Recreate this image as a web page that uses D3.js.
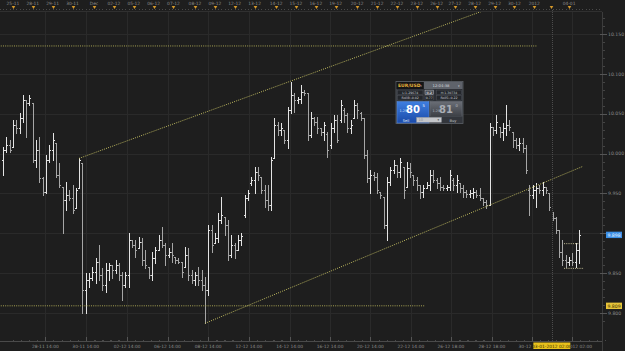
<!DOCTYPE html>
<html>
<head>
<meta charset="utf-8">
<script src="https://cdn.jsdelivr.net/npm/d3@7"></script>
<style>
  html, body { margin: 0; padding: 0; background: #1e1e1e; overflow: hidden; }
  svg { display: block; }
  text { font-family: 'DejaVu Sans', 'Liberation Sans', sans-serif; }
</style>
</head>
<body>
<div id="myDiv"></div>
<script>
//--------------------------------------------------
// Data: 4 hour bars, 25-11-2011 .. 04-01-2012
//--------------------------------------------------
var opens = [
  9.992,10.004,10.011,10.008,10.036,10.032,10.045,10.067,10.063,10.063,
  9.992,10.004,9.969,9.952,9.992,10.004,10.013,9.973,9.958,9.942,
  9.948,9.944,9.932,9.957,9.988,9.829,9.841,9.844,9.851,9.864,
  9.848,9.835,9.854,9.860,9.854,9.860,9.848,9.835,9.848,9.892,
  9.885,9.882,9.889,9.866,9.858,9.848,9.869,9.879,9.892,9.885,
  9.873,9.877,9.870,9.866,9.864,9.858,9.873,9.848,9.841,9.848,
  9.841,9.835,9.829,9.904,9.888,9.894,9.917,9.920,9.910,9.873,
  9.885,9.879,9.892,9.923,9.944,9.963,9.967,9.977,9.971,9.954,
  9.942,9.935,9.994,10.036,10.030,10.030,10.017,10.055,10.073,10.067,
  10.068,10.077,10.076,10.023,10.045,10.040,10.032,10.027,10.025,10.011,
  10.032,10.042,10.042,10.055,10.048,10.032,10.045,10.061,10.051,10.045,
  9.998,9.969,9.973,9.971,9.952,9.946,9.910,9.964,9.979,9.986,
  9.977,9.983,9.958,9.982,9.973,9.967,9.960,9.952,9.957,9.961,
  9.973,9.967,9.963,9.958,9.957,9.958,9.967,9.961,9.963,9.957,
  9.952,9.949,9.951,9.952,9.948,9.944,9.939,9.935,10.033,10.030,
  10.033,10.027,10.032,10.036,10.027,10.017,10.011,10.013,10.007,9.954,
  9.948,9.954,9.957,9.954,9.958,9.951,9.927,9.919,9.904,9.877,
  9.866,9.864,9.866,9.864,9.879
];
var highs = [
  10.008,10.021,10.017,10.042,10.042,10.051,10.073,10.067,10.073,10.063,
  10.017,10.021,9.971,9.998,10.011,10.026,10.013,9.988,9.958,9.964,
  9.954,9.961,9.957,9.994,9.988,9.850,9.850,9.858,9.869,9.885,
  9.856,9.863,9.863,9.860,9.866,9.863,9.851,9.851,9.900,9.892,
  9.892,9.895,9.894,9.879,9.858,9.877,9.883,9.898,9.908,9.888,
  9.882,9.888,9.870,9.869,9.864,9.883,9.882,9.854,9.851,9.858,
  9.854,9.845,9.910,9.910,9.900,9.925,9.946,9.920,9.917,9.898,
  9.888,9.898,9.900,9.948,9.954,9.971,9.983,9.983,9.971,9.961,
  9.961,9.996,10.045,10.040,10.038,10.030,10.058,10.090,10.076,10.071,
  10.086,10.080,10.076,10.052,10.046,10.046,10.032,10.040,10.027,10.038,
  10.048,10.048,10.067,10.057,10.051,10.042,10.067,10.063,10.052,10.045,
  10.004,9.979,9.977,9.976,9.952,9.946,9.971,9.983,9.992,9.986,
  9.994,9.983,9.989,9.988,9.973,9.971,9.961,9.961,9.964,9.979,
  9.979,9.969,9.971,9.961,9.961,9.979,9.969,9.973,9.963,9.961,
  9.954,9.954,9.957,9.954,9.957,9.944,9.942,10.038,10.033,10.048,
  10.033,10.038,10.061,10.042,10.027,10.020,10.020,10.020,10.011,9.961,
  9.961,9.963,9.961,9.964,9.958,9.951,9.927,9.920,9.904,9.892,
  9.873,9.870,9.875,9.888,9.904
];
var lows = [
  9.973,10.002,10.002,10.008,10.026,10.026,10.040,10.021,10.061,9.989,
  9.983,9.964,9.948,9.951,9.989,9.992,9.971,9.958,9.900,9.929,
  9.942,9.925,9.932,9.957,9.800,9.800,9.833,9.841,9.838,9.841,
  9.829,9.826,9.841,9.844,9.850,9.841,9.816,9.833,9.833,9.883,
  9.870,9.882,9.860,9.856,9.844,9.841,9.863,9.879,9.883,9.860,
  9.870,9.864,9.863,9.863,9.845,9.858,9.841,9.838,9.835,9.835,
  9.829,9.787,9.823,9.877,9.888,9.889,9.913,9.898,9.866,9.870,
  9.869,9.879,9.885,9.920,9.942,9.961,9.951,9.967,9.951,9.933,
  9.929,9.929,9.994,10.023,10.023,10.013,10.007,10.051,10.052,10.063,
  10.063,10.073,10.017,10.021,10.036,10.026,10.023,10.017,9.996,10.007,
  10.027,10.015,10.040,10.040,10.027,10.026,10.045,10.045,10.042,9.994,
  9.964,9.951,9.967,9.951,9.944,9.907,9.892,9.961,9.976,9.971,
  9.971,9.944,9.958,9.971,9.961,9.954,9.944,9.946,9.957,9.954,
  9.964,9.957,9.954,9.954,9.954,9.954,9.954,9.952,9.952,9.946,
  9.946,9.946,9.944,9.946,9.942,9.935,9.932,9.935,10.023,10.026,
  10.021,10.017,10.023,10.030,10.008,10.007,10.004,10.002,9.976,9.923,
  9.944,9.933,9.951,9.948,9.951,9.929,9.917,9.900,9.870,9.860,
  9.858,9.860,9.860,9.858,9.863
];
var closes = [
  10.004,10.011,10.004,10.036,10.032,10.045,10.067,10.063,10.070,9.992,
  10.004,9.969,9.952,9.992,10.004,10.017,9.973,9.961,9.942,9.948,
  9.944,9.929,9.954,9.992,9.829,9.841,9.844,9.851,9.864,9.848,
  9.835,9.854,9.860,9.854,9.860,9.848,9.835,9.848,9.892,9.885,
  9.879,9.889,9.866,9.860,9.848,9.869,9.879,9.892,9.885,9.873,
  9.877,9.873,9.866,9.864,9.851,9.873,9.848,9.841,9.848,9.841,
  9.835,9.829,9.904,9.885,9.894,9.917,9.923,9.910,9.873,9.885,
  9.879,9.892,9.897,9.944,9.951,9.967,9.977,9.973,9.954,9.942,
  9.935,9.992,10.036,10.030,10.032,10.017,10.055,10.073,10.067,10.068,
  10.077,10.076,10.023,10.045,10.040,10.032,10.027,10.036,10.004,10.032,
  10.042,10.017,10.061,10.048,10.032,10.036,10.061,10.055,10.045,9.998,
  9.969,9.973,9.971,9.954,9.948,9.910,9.964,9.979,9.986,9.977,
  9.989,9.954,9.982,9.977,9.967,9.960,9.952,9.957,9.961,9.973,
  9.967,9.963,9.958,9.957,9.958,9.973,9.961,9.967,9.957,9.952,
  9.949,9.951,9.952,9.948,9.944,9.939,9.935,10.033,10.030,10.040,
  10.027,10.032,10.036,10.033,10.017,10.011,10.013,10.007,9.979,9.948,
  9.954,9.957,9.954,9.958,9.954,9.933,9.919,9.904,9.877,9.866,
  9.864,9.866,9.864,9.879,9.898
];

// day markers on the top ruler (bar index where each day starts)
var dayLabels = ['25-11','28-11','29-11','30-11','Dec','02-12','05-12','06-12','07-12','08-12',
  '09-12','12-12','13-12','14-12','15-12','16-12','19-12','20-12','21-12','22-12',
  '23-12','26-12','27-12','28-12','29-12','30-12','2012','','04-01'];
var dayIndex = [3,9,15,21,27.5,33.5,39.5,45.5,51.5,58,64,70,76,82.5,88.5,94.5,100.5,107,113,119,
  125,131,136.5,142.5,148.5,154.5,160.5,165.5,171];

// bottom time axis
var timeLabels = ['28-11 14:00','30-11 14:00','02-12 14:00','06-12 14:00','08-12 14:00','12-12 14:00',
  '14-12 14:00','16-12 14:00','20-12 14:00','22-12 14:00','26-12 18:00','28-12 18:00',
  '30-12 18:00','04-01-2012 02:00'];
var timeIndex = [12.8,25,37.5,49.7,62,74.3,86.6,98.8,111,123.2,135.3,147.7,159.8,172];

// price axis
var priceTicks = [9.800, 9.850, 9.900, 9.950, 10.000, 10.050, 10.100, 10.150];
var lastPrice = 9.898;
var supportPrice = 9.809;

// drawn objects: [bar index, price]
var channelTop = [[23, 9.994], [145, 10.179]];
var channelBottom = [[61, 9.787], [175.2, 9.984]];
var levelHigh = [[-2, 10.135], [161.3, 10.135]];
var levelLow = [[-2, supportPrice], [127.5, supportPrice]];
var orderStop = [[169.5, 9.887], [174.2, 9.887]];
var orderLimit = [[169.5, 9.856], [175.5, 9.856]];
var cursorIndex = 165.8;
var cursorLabel = '03-01-2012 02:00';

//--------------------------------------------------
// Styles
//--------------------------------------------------
var bgColor = '#1e1e1e';
var gridColor = '#2a2a2a';
var axisText = '#8c8c8c';
var upColor = '#e4e4e4';
var downColor = '#a6a6a6';
var drawColor = '#bdb85e';

var width = 625, height = 351;
var plotTop = 12, plotBottom = 341, axisX = 602;

var svg = d3.select('#myDiv')
  .append('svg')
    .attr('width', width)
    .attr('height', height);

svg.append('rect').attr('width', width).attr('height', height).attr('fill', bgColor);

var x = d3.scaleLinear().domain([0, closes.length - 1]).range([3, 579]);
var y = d3.scaleLinear().domain([9.800, 10.150]).range([313, 34]);

function px(v) { return Math.round(v) + 0.5; }

svg.append('clipPath').attr('id', 'plotClip')
  .append('rect').attr('x', 0).attr('y', plotTop).attr('width', axisX).attr('height', plotBottom - plotTop);

// grid
var grid = svg.append('g').attr('shape-rendering', 'crispEdges');
grid.selectAll('line.v').data(timeIndex).enter().append('line')
  .attr('x1', function (d) { return px(x(d)); })
  .attr('x2', function (d) { return px(x(d)); })
  .attr('y1', plotTop).attr('y2', plotBottom)
  .attr('stroke', gridColor);
grid.selectAll('line.h').data(priceTicks).enter().append('line')
  .attr('x1', 0).attr('x2', axisX)
  .attr('y1', function (d) { return px(y(d)); })
  .attr('y2', function (d) { return px(y(d)); })
  .attr('stroke', gridColor);

// top ruler
var ruler = svg.append('g');
ruler.append('line').attr('x1', 0).attr('x2', axisX).attr('y1', plotTop - 0.5).attr('y2', plotTop - 0.5)
  .attr('stroke', '#303030');
ruler.selectAll('line.tick').data(d3.range(-1, closes.length + 6)).enter().append('line')
  .attr('x1', function (d) { return px(x(d)); })
  .attr('x2', function (d) { return px(x(d)); })
  .attr('y1', 8.5).attr('y2', 10)
  .attr('stroke', '#4a4a4a')
  .attr('shape-rendering', 'crispEdges');
ruler.selectAll('path.mark').data(dayIndex).enter().append('path')
  .attr('d', function (d) {
    var cx = Math.round(x(d)) + 0.5;
    return 'M' + (cx - 1.8) + ',6 L' + (cx + 1.8) + ',6 L' + cx + ',9 Z';
  })
  .attr('fill', '#d69a2c');
ruler.selectAll('text').data(dayLabels).enter().append('text')
  .attr('x', function (d, i) { return x(dayIndex[i]); })
  .attr('y', 4.6)
  .attr('text-anchor', 'middle')
  .attr('font-size', 4.4)
  .attr('fill', axisText)
  .text(function (d) { return d; });

// plot area
var plot = svg.append('g').attr('clip-path', 'url(#plotClip)');

function dotted(pts, color) {
  plot.append('line')
    .attr('x1', x(pts[0][0])).attr('y1', y(pts[0][1]))
    .attr('x2', x(pts[1][0])).attr('y2', y(pts[1][1]))
    .attr('stroke', color || drawColor)
    .attr('stroke-width', 1)
    .attr('stroke-dasharray', '1,1.2');
}

// cursor line
svg.append('line')
  .attr('x1', px(x(cursorIndex))).attr('x2', px(x(cursorIndex)))
  .attr('y1', 10).attr('y2', plotBottom)
  .attr('stroke', '#4c4c4c')
  .attr('stroke-dasharray', '1,1');

// bars
var bars = closes.map(function (c, i) {
  return { i: i, o: opens[i], h: highs[i], l: lows[i], c: c };
});
plot.append('g').attr('shape-rendering', 'crispEdges')
  .selectAll('path').data(bars).enter().append('path')
  .attr('d', function (d) {
    var cx = px(x(d.i));
    var yo = px(y(d.o)), yc = px(y(d.c));
    return 'M' + cx + ',' + Math.round(y(d.h)) + 'V' + (Math.round(y(d.l)) + 1) +
      'M' + (cx - 1.5) + ',' + yo + 'H' + cx +
      'M' + cx + ',' + yc + 'H' + (cx + 1.5);
  })
  .attr('fill', 'none')
  .attr('stroke', function (d) { return d.c >= d.o ? upColor : downColor; })
  .attr('stroke-width', 1);

dotted(levelHigh, '#a9a555');
dotted(levelLow, '#a9a555');
dotted(channelTop);
dotted(channelBottom);
dotted(orderStop, '#c9c39a');
dotted(orderLimit, '#c9c39a');

// bottom axis
var bottom = svg.append('g');
bottom.append('line').attr('x1', 0).attr('x2', axisX).attr('y1', plotBottom + 0.5).attr('y2', plotBottom + 0.5)
  .attr('stroke', '#4a4a4a');
var minor = [];
timeIndex.forEach(function (t, i) {
  for (var k = -4; k <= 4; k++) { if (k !== 0) minor.push(t + k * 12.2 / 5); }
});
bottom.selectAll('line.minor').data(minor).enter().append('line')
  .attr('x1', function (d) { return px(x(d)); })
  .attr('x2', function (d) { return px(x(d)); })
  .attr('y1', plotBottom - 1.5).attr('y2', plotBottom)
  .attr('stroke', '#4a4a4a').attr('shape-rendering', 'crispEdges');
bottom.selectAll('line.major').data(timeIndex).enter().append('line')
  .attr('x1', function (d) { return px(x(d)); })
  .attr('x2', function (d) { return px(x(d)); })
  .attr('y1', plotBottom - 4).attr('y2', plotBottom)
  .attr('stroke', '#555').attr('shape-rendering', 'crispEdges');
bottom.selectAll('text').data(timeLabels).enter().append('text')
  .attr('x', function (d, i) { return x(timeIndex[i]); })
  .attr('y', 347.8)
  .attr('text-anchor', 'middle')
  .attr('font-size', 4.4)
  .attr('fill', axisText)
  .text(function (d) { return d; });
bottom.append('rect')
  .attr('x', x(cursorIndex) - 18.5).attr('y', 342.5).attr('width', 37).attr('height', 6.5)
  .attr('fill', '#e9c21c');
bottom.append('text')
  .attr('x', x(cursorIndex)).attr('y', 347.8)
  .attr('text-anchor', 'middle').attr('font-size', 4.4).attr('fill', '#3a3000')
  .text(cursorLabel);

// right price axis
var right = svg.append('g');
right.append('line').attr('x1', axisX + 0.5).attr('x2', axisX + 0.5).attr('y1', plotTop).attr('y2', height)
  .attr('stroke', '#3c3c3c');
right.selectAll('line.minor').data(d3.range(9.79, 10.17, 0.01)).enter().append('line')
  .attr('x1', axisX + 1).attr('x2', axisX + 3)
  .attr('y1', function (d) { return px(y(d)); })
  .attr('y2', function (d) { return px(y(d)); })
  .attr('stroke', '#444').attr('shape-rendering', 'crispEdges');
right.selectAll('line.major').data(priceTicks).enter().append('line')
  .attr('x1', axisX - 2).attr('x2', axisX + 5)
  .attr('y1', function (d) { return px(y(d)); })
  .attr('y2', function (d) { return px(y(d)); })
  .attr('stroke', '#555').attr('shape-rendering', 'crispEdges');
// labels hidden under the last price box are not drawn
right.selectAll('text').data(priceTicks.filter(function (d) {
    return Math.abs(y(d) - y(lastPrice)) > 5;
  })).enter().append('text')
  .attr('x', 608)
  .attr('y', function (d) { return y(d) + 1.7; })
  .attr('font-size', 4.6)
  .attr('fill', axisText)
  .text(function (d) { return d3.format('.3f')(d); });

function priceBox(p, fill, color) {
  right.append('rect').attr('x', 606).attr('y', y(p) - 3.2).attr('width', 16).attr('height', 6.4)
    .attr('fill', fill);
  right.append('text').attr('x', 614).attr('y', y(p) + 1.7).attr('text-anchor', 'middle')
    .attr('font-size', 4.6).attr('fill', color).text(d3.format('.3f')(p));
}
priceBox(lastPrice, '#3b8fe6', '#eaf3ff');
priceBox(supportPrice, '#e7c43a', '#3a3000');

//--------------------------------------------------
// Trade widget
//--------------------------------------------------
var wg = svg.append('g').attr('transform', 'translate(396,81.5)');
var defs = svg.append('defs');
var gBlue = defs.append('linearGradient').attr('id', 'gBlue').attr('x1', 0).attr('x2', 0).attr('y1', 0).attr('y2', 1);
gBlue.append('stop').attr('offset', 0).attr('stop-color', '#3f7fe0');
gBlue.append('stop').attr('offset', 1).attr('stop-color', '#1a4aa8');
var gGray = defs.append('linearGradient').attr('id', 'gGray').attr('x1', 0).attr('x2', 0).attr('y1', 0).attr('y2', 1);
gGray.append('stop').attr('offset', 0).attr('stop-color', '#6a6e76');
gGray.append('stop').attr('offset', 1).attr('stop-color', '#3c3f45');

wg.append('rect').attr('x', 0).attr('y', 0).attr('width', 67).attr('height', 42)
  .attr('fill', '#2c2f35').attr('stroke', '#5d6168').attr('stroke-width', 0.8);
wg.append('rect').attr('x', 0.5).attr('y', 0.5).attr('width', 27).attr('height', 7)
  .attr('fill', '#151517');
wg.append('text').attr('x', 2).attr('y', 5.8).attr('font-size', 4.5).attr('font-weight', 'bold')
  .attr('fill', '#e8b23a').text('EUR/USD');
wg.append('text').attr('x', 24.2).attr('y', 5.6).attr('font-size', 3.2).attr('fill', '#9aa').text('▾');
wg.append('rect').attr('x', 28).attr('y', 0.5).attr('width', 38.5).attr('height', 7)
  .attr('fill', '#5f636b');
wg.append('text').attr('x', 45).attr('y', 5.6).attr('text-anchor', 'middle').attr('font-size', 3.8)
  .attr('fill', '#d6d8dc').text('12:04:38');
wg.append('text').attr('x', 62).attr('y', 5.6).attr('font-size', 3.2).attr('fill', '#ccc').text('▾');

var cells = [
  { x: 1.5, w: 25.5, y: 8.6, t: 'L:1.29674' },
  { x: 29, w: 8.5, y: 8.6, t: '0.2', hi: true },
  { x: 40.5, w: 25, y: 8.6, t: 'H:1.30734' },
  { x: 1.5, w: 25.5, y: 14, t: 'RollB:-0.02' },
  { x: 29, w: 8.5, y: 14, t: '0.77' },
  { x: 40.5, w: 25, y: 14, t: 'RollS:-0.22' }
];
wg.selectAll('g.cell').data(cells).enter().append('g').each(function (d) {
  var g = d3.select(this);
  g.append('rect').attr('x', d.x).attr('y', d.y).attr('width', d.w).attr('height', 4.6)
    .attr('fill', d.hi ? '#4a4e56' : '#24272c').attr('stroke', d.hi ? '#b8bcc4' : '#4d5158')
    .attr('stroke-width', 0.5);
  g.append('text').attr('x', d.x + d.w / 2).attr('y', d.y + 3.6).attr('text-anchor', 'middle')
    .attr('font-size', 3.2).attr('fill', '#c8ccd2').attr('font-weight', d.hi ? 'bold' : 'normal')
    .text(d.t);
});

// sell / buy
wg.append('rect').attr('x', 1).attr('y', 20).attr('width', 32).attr('height', 21.5).attr('fill', 'url(#gBlue)')
  .attr('stroke', '#5d8fe0').attr('stroke-width', 0.5);
wg.append('rect').attr('x', 34).attr('y', 20).attr('width', 32).attr('height', 15).attr('fill', 'url(#gGray)')
  .attr('stroke', '#6e737b').attr('stroke-width', 0.5);
wg.append('rect').attr('x', 34).attr('y', 35).attr('width', 32).attr('height', 6.5).attr('fill', '#33363c');

wg.append('text').attr('x', 3.5).attr('y', 30.5).attr('font-size', 3.4).attr('fill', '#dce6ff').text('1.29');
wg.append('text').attr('x', 10).attr('y', 31).attr('font-size', 10).attr('font-weight', 'bold')
  .attr('fill', '#ffffff').text('80');
wg.append('text').attr('x', 26.5).attr('y', 25.5).attr('font-size', 3.8).attr('fill', '#ffffff').text('5');
wg.append('text').attr('x', 36.5).attr('y', 30.5).attr('font-size', 3.4).attr('fill', '#b8bcc4').text('1.29');
wg.append('text').attr('x', 43).attr('y', 31).attr('font-size', 10).attr('font-weight', 'bold')
  .attr('fill', '#a9adb5').text('81');
wg.append('text').attr('x', 59.5).attr('y', 25.5).attr('font-size', 3.8).attr('fill', '#b8bcc4').text('0');

wg.append('text').attr('x', 10).attr('y', 40).attr('text-anchor', 'middle').attr('font-size', 3.6)
  .attr('fill', '#e8eeff').text('Sell');
wg.append('rect').attr('x', 20.5).attr('y', 35.8).attr('width', 25).attr('height', 5)
  .attr('fill', '#c4c6ca').attr('stroke', '#8a8d92').attr('stroke-width', 0.4);
wg.append('text').attr('x', 22.5).attr('y', 39.7).attr('font-size', 3.6).attr('fill', '#8a8d92').text('10');
wg.append('text').attr('x', 41.5).attr('y', 39.7).attr('font-size', 3.4).attr('fill', '#555').text('▾');
wg.append('text').attr('x', 57).attr('y', 40).attr('text-anchor', 'middle').attr('font-size', 3.6)
  .attr('fill', '#c0c4ca').text('Buy');
</script>
</body>
</html>
